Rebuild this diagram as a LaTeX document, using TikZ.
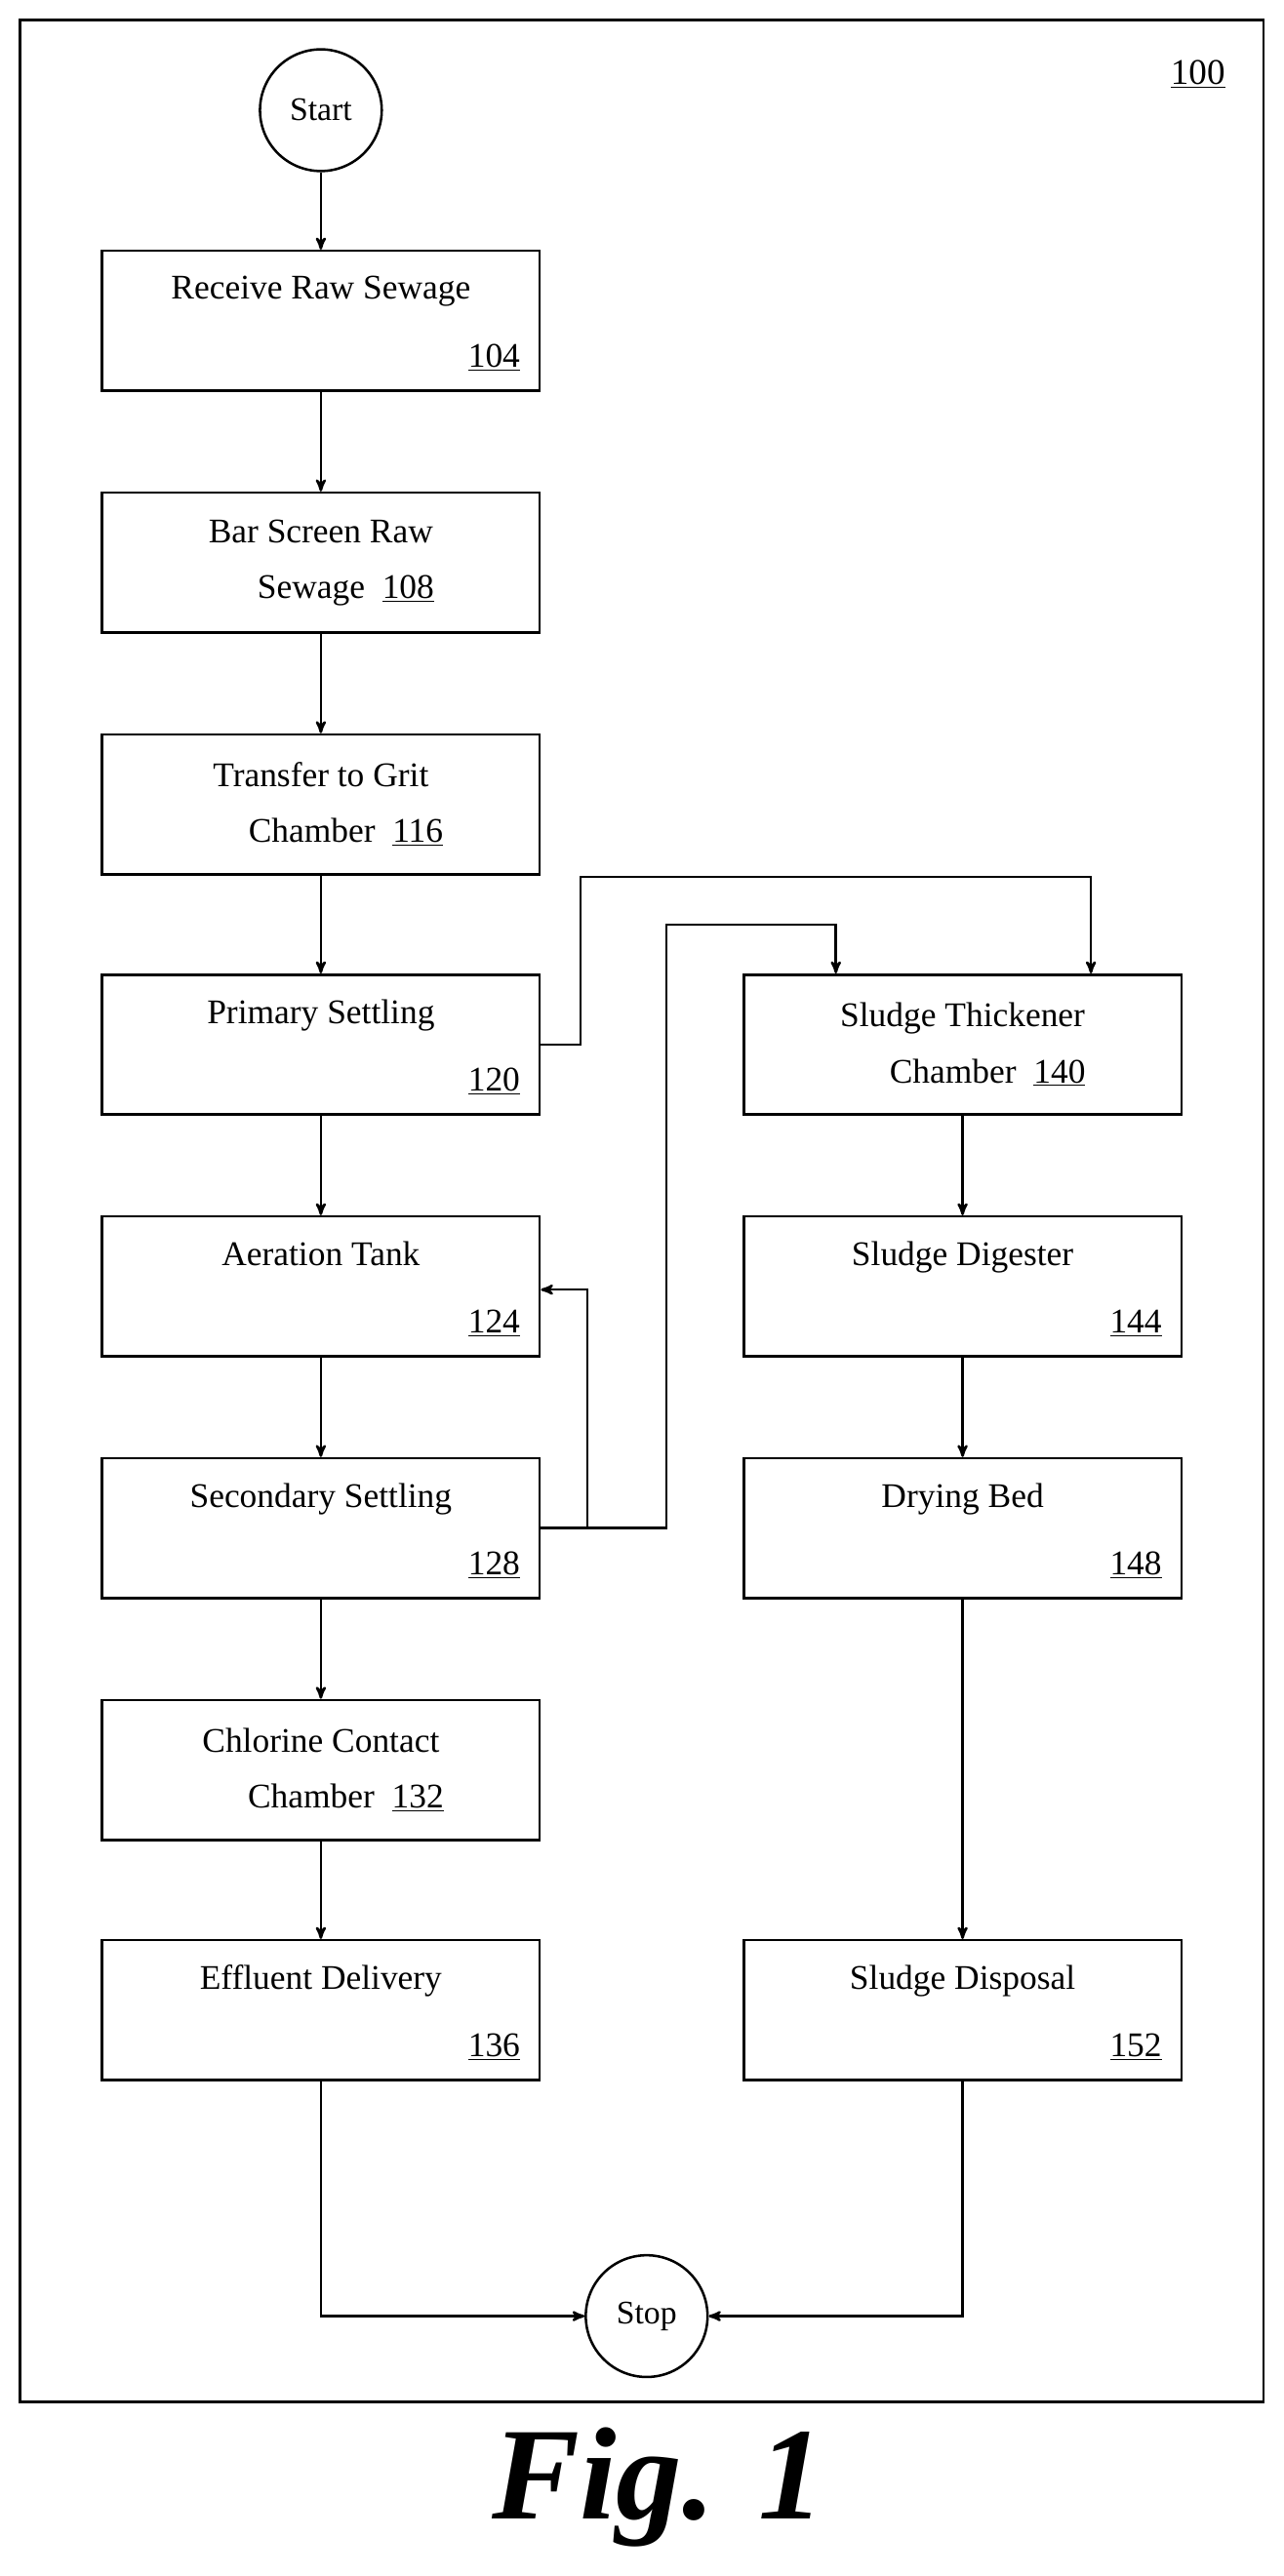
\documentclass[tikz,border=0pt]{standalone}
\usepackage{fontspec}
\setmainfont{Liberation Serif}
\usetikzlibrary{arrows, shapes, calc, positioning}
\tikzset {
    stage/.style = {
        draw,
        shape = rectangle,
        minimum width=266pt,
        minimum height=85pt,
        align=center,
        font=\fontsize{21}{34}\selectfont
    },
    num/.style args = {#1}{
        label = {[anchor=south east, inner sep=12pt, font=\fontsize{21}{25}\selectfont]south east:\underline{#1}}
    },
    term/.style = {
        draw,
        shape = circle,
        minimum size=74pt,
        inner sep=0pt,
        font=\fontsize{20}{24}\selectfont
    },
    every path/.style = {
        line width=1.5pt
    },
    flow/.style = {
        ->,
        >=stealth',
        draw
    }
}
\begin{document}
\begin{tikzpicture}[x=1pt, y=-1pt]
        \useasboundingbox (0,0) rectangle (780,1566);
        \draw (12,12) rectangle (768,1460);
        \node [font=\fontsize{22}{26}\selectfont] at (728,45) (fignum) {\underline{100}};

        % Left column : start, steps 104 ... 136
        \node [term] at (195,67)                          (start)   {Start};
        \node [stage, num={104}] at (195,195)             (recv)    {Receive Raw Sewage\\[-4pt] \strut};
        \node [stage] at (195,342)                        (bar)     {Bar Screen Raw\\ \phantom{XX}Sewage \ \underline{108}};
        \node [stage] at (195,489)                        (grit)    {Transfer to Grit\\ \phantom{XX}Chamber \ \underline{116}};
        \node [stage, num={120}] at (195,635)             (prim)    {Primary Settling\\[-4pt] \strut};
        \node [stage, num={124}] at (195,782)             (aer)     {Aeration Tank\\[-4pt] \strut};
        \node [stage, num={128}] at (195,929)             (sec)     {Secondary Settling\\[-4pt] \strut};
        \node [stage] at (195,1076)                       (chlor)   {Chlorine Contact\\ \phantom{XX}Chamber \ \underline{132}};
        \node [stage, num={136}] at (195,1222)            (eff)     {Effluent Delivery\\[-4pt] \strut};

        % Right column : sludge steps 140 ... 152, stop
        \node [stage] at (585,635)                        (thick)   {Sludge Thickener\\ \phantom{XX}Chamber \ \underline{140}};
        \node [stage, num={144}] at (585,782)             (dig)     {Sludge Digester\\[-4pt] \strut};
        \node [stage, num={148}] at (585,929)             (dry)     {Drying Bed\\[-4pt] \strut};
        \node [stage, num={152}] at (585,1222)            (disp)    {Sludge Disposal\\[-4pt] \strut};
        \node [term] at (393,1408)                        (stop)    {Stop};

        \node [font=\fontsize{80}{90}\selectfont\bfseries\itshape] at (400,1512) (caption) {Fig. 1};

        \path [flow]  (start)   --  (recv);
        \path [flow]  (recv)    --  (bar);
        \path [flow]  (bar)     --  (grit);
        \path [flow]  (grit)    --  (prim);
        \path [flow]  (prim)    --  (aer);
        \path [flow]  (aer)     --  (sec);
        \path [flow]  (sec)     --  (chlor);
        \path [flow]  (chlor)   --  (eff);
        \path [flow]  (thick)   --  (dig);
        \path [flow]  (dig)     --  (dry);
        \path [flow]  (dry)     --  (disp);

        \path [flow]  (prim.east) -- ++(24,0) |- (353,533) -| ([xshift=78pt]thick.north);
        \path [flow]  (sec.east) -- (357,929) |- ([yshift=-2pt]aer.east);
        \path [flow]  (sec.east) -- (405,929) |- (405,562) -| ([xshift=-77pt]thick.north);
        \path [flow]  (eff)     |-  (stop);
        \path [flow]  (disp)    |-  (stop);
    \end{tikzpicture}
\end{document}
